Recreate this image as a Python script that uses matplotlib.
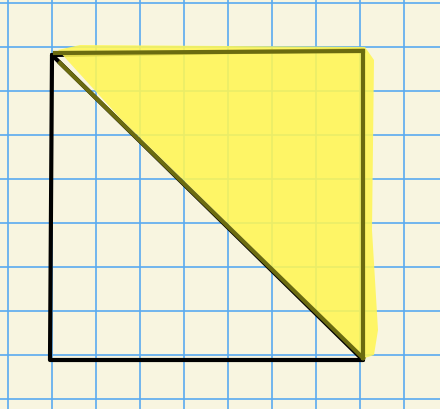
import matplotlib
matplotlib.use("Agg")
import matplotlib.pyplot as plt

# grid line positions (pixels)
grid_x = [8, 52, 96, 140, 184, 228, 272, 316, 360, 404]
grid_y = [3, 47, 91, 135, 179, 223, 267, 311, 355, 399]

# square outline
square_x = [52, 363, 363, 50, 52]
square_y = [55, 50, 360, 360, 55]

# diagonal
diag_x = [52, 363]
diag_y = [55, 360]

# highlighted triangle
tri_x = [58, 80, 365, 374, 372, 378, 374, 365, 120, 58]
tri_y = [50, 45, 47, 60, 230, 330, 355, 358, 118, 50]

fig = plt.figure(figsize=(4.4, 4.09), dpi=100)
ax = fig.add_axes([0, 0, 1, 1])
ax.set_facecolor("#f8f5e0")
ax.set_xlim(0, 440)
ax.set_ylim(409, 0)
ax.axis("off")
fig.patch.set_facecolor("#f8f5e0")

for gx in grid_x:
    ax.axvline(gx, color="#5aaaf0", lw=1.2)
for gy in grid_y:
    ax.axhline(gy, color="#5aaaf0", lw=1.2)

ax.plot(square_x, square_y, color="black", lw=3, solid_capstyle="round")
ax.plot(diag_x, diag_y, color="black", lw=3, solid_capstyle="round")
ax.fill(tri_x, tri_y, color="#fff655", alpha=0.88, lw=0, zorder=3)
# lines under highlight show olive
ax.plot([55, 363], [53, 51], color="#6b6b10", lw=3, zorder=4)
ax.plot([363, 363], [51, 358], color="#6b6b10", lw=3, zorder=4)
ax.plot([60, 363], [63, 358], color="#6b6b10", lw=3, zorder=4)

fig.savefig("out.png", dpi=100, facecolor=fig.get_facecolor())
